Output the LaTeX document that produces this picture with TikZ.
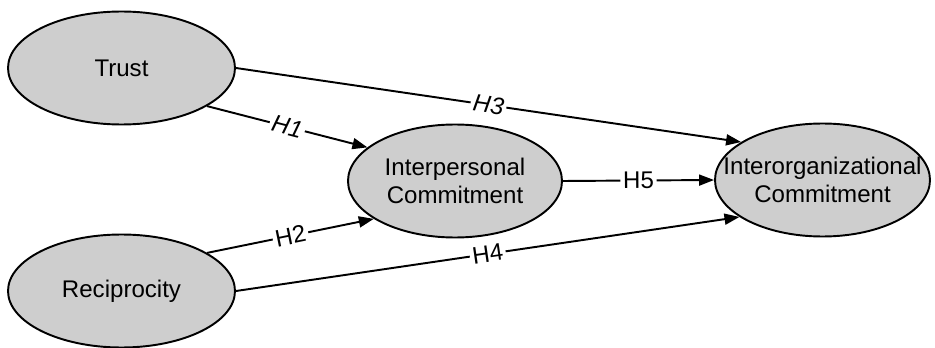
\documentclass[tikz,border=0pt]{standalone}
\usepackage{fontspec}
\setmainfont{Liberation Sans}
\usetikzlibrary{shapes.geometric,arrows.meta}

\definecolor{ellgrau}{RGB}{206,206,206}

\tikzset{
    konstrukt/.style={ellipse, draw, line width=1.1pt, fill=ellgrau,
        minimum width=4.4cm, minimum height=2.26cm, inner sep=0pt,
        align=center, font=\fontsize{13.7}{15.5}\selectfont},
    pfeil/.style={line width=1.1pt, -{Triangle[length=0.3cm,width=0.22cm]}},
    hyp/.style={midway, sloped, fill=white, inner sep=1.5pt,
        font=\fontsize{13.7}{15.5}\selectfont},
}

\begin{document}
\begin{tikzpicture}
            % Rahmen
            \useasboundingbox (0,0) rectangle (18.7,-6.96);

            % Konstrukte
            \node[konstrukt, minimum width=4.54cm] (trust) at (2.43,-1.36) {Trust};
            \node[konstrukt, minimum width=4.54cm] (recip) at (2.43,-5.82) {Reciprocity};
            \node[konstrukt, minimum width=4.28cm, inner xsep=-0.2cm] (inter) at (9.10,-3.62) {Interpersonal\\Commitment};
            \node[konstrukt, minimum width=4.3cm, inner xsep=-0.48cm] (org) at (16.45,-3.60) {Interorganizational\\Commitment};

            % Hypothesen
            \draw[pfeil] (trust.-24) -- node[hyp] {\itshape H1} (inter.159);
            \draw[pfeil] (trust.east) -- node[hyp] {\itshape H3} (org.155);
            \draw[pfeil] (recip.24) -- node[hyp] {H2} (inter.205);
            \draw[pfeil] (recip.east) -- node[hyp] {H4} (org.204);
            \draw[pfeil] (inter.east) -- node[hyp] {H5} (org.west);
        \end{tikzpicture}
\end{document}
